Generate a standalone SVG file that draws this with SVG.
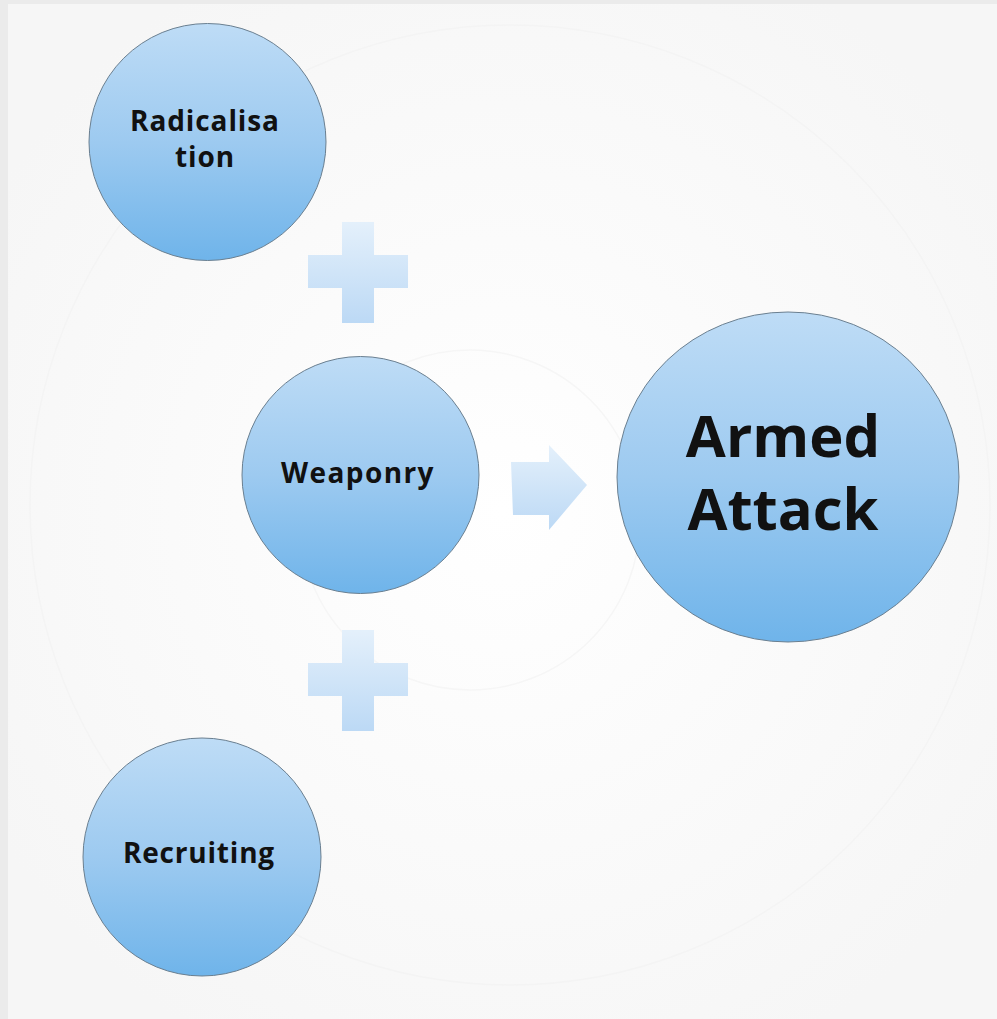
<svg xmlns="http://www.w3.org/2000/svg" width="997" height="1019" viewBox="0 0 997 1019">
<defs>
<linearGradient id="ball" x1="0" y1="0" x2="0" y2="1">
<stop offset="0" stop-color="#bedcf6"/>
<stop offset="0.5" stop-color="#9dcaf0"/>
<stop offset="1" stop-color="#6fb4ea"/>
</linearGradient>
<linearGradient id="soft" x1="0" y1="0" x2="0" y2="1">
<stop offset="0" stop-color="#e4f0fb"/>
<stop offset="1" stop-color="#bcd9f5"/>
</linearGradient>
<radialGradient id="bg" cx="0.5" cy="0.5" r="0.6">
<stop offset="0" stop-color="#ffffff"/>
<stop offset="1" stop-color="#f6f6f6"/>
</radialGradient>
<style>
.node circle, .node ellipse { fill: url(#ball); stroke: #6a7f90; stroke-width: 1; }
.lbl { font-family: "Open Sans", "Noto Sans", sans-serif; font-weight: bold; fill: #111111; text-anchor: middle; }
.conn { fill: url(#soft); }
</style>
</defs>
<rect x="0" y="0" width="997" height="1019" fill="#ebebeb"/>
<rect x="8" y="4" width="989" height="1015" fill="url(#bg)"/>
<circle cx="510" cy="505" r="480" fill="none" stroke="#f4f4f4" stroke-width="1.5"/>
<circle cx="470" cy="520" r="170" fill="none" stroke="#f6f6f6" stroke-width="1.5"/>
<g id="connectors">
<path class="conn" d="M342,222 H374 V255 H408 V288 H374 V323 H342 V288 H308 V255 H342 Z"/>
<path class="conn" d="M342,630 H374 V663 H408 V696 H374 V731 H342 V696 H308 V663 H342 Z"/>
<path class="conn" d="M511,462 L549,462 L549,445 L587,485 L549,530 L549,515 L513,515 Z"/>
</g>
<g id="node-radicalisation" class="node">
<circle cx="207.5" cy="142" r="118.5"/>
<text class="lbl" font-size="28" letter-spacing="0.9"><tspan x="205" y="131">Radicalisa</tspan><tspan x="205" y="167">tion</tspan></text>
</g>
<g id="node-weaponry" class="node">
<circle cx="360.5" cy="475" r="118.5"/>
<text class="lbl" x="358" y="483" font-size="28" letter-spacing="1.4">Weaponry</text>
</g>
<g id="node-recruiting" class="node">
<circle cx="202" cy="857" r="119"/>
<text class="lbl" x="199" y="863" font-size="28" letter-spacing="0.8">Recruiting</text>
</g>
<g id="node-armed-attack" class="node">
<ellipse cx="788" cy="477" rx="171" ry="165"/>
<text class="lbl" font-size="58"><tspan x="783" y="457">Armed</tspan><tspan x="783" y="530">Attack</tspan></text>
</g>
</svg>
